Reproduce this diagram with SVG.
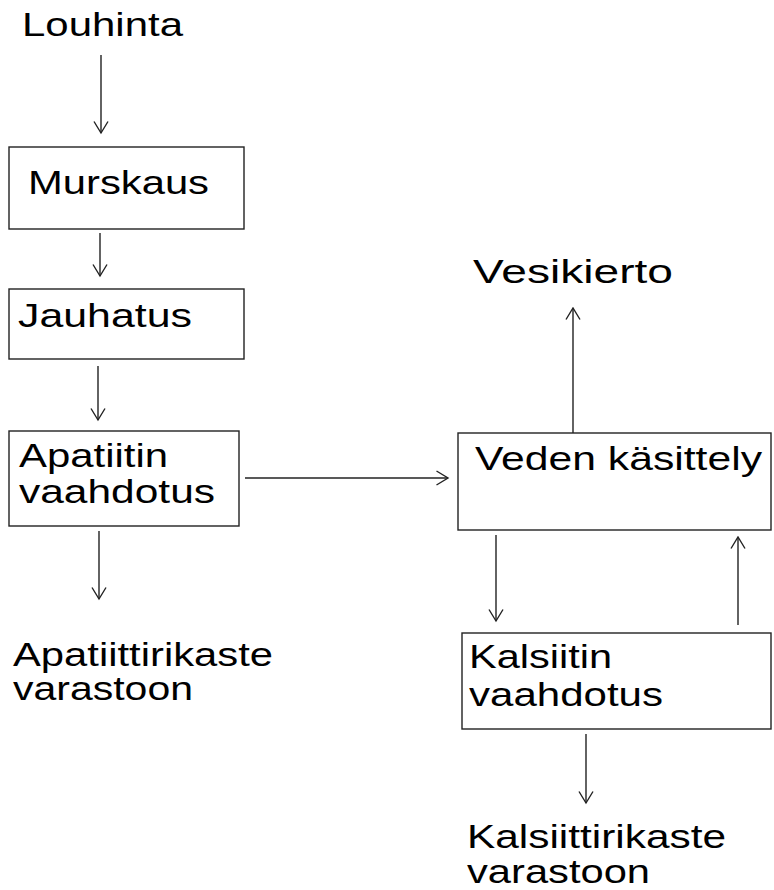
<svg xmlns="http://www.w3.org/2000/svg" width="774" height="890" viewBox="0 0 774 890">
<defs>
<style>
.t{font-family:"Liberation Sans",Arial,sans-serif;font-size:33px;fill:#000}
.b{fill:#fff;stroke:#222;stroke-width:1.4}
.c{stroke:#222;stroke-width:1.4;fill:none;marker-end:url(#ah)}
</style>
<marker id="ah" viewBox="0 0 14 16" refX="12.5" refY="8" markerWidth="14" markerHeight="16" markerUnits="userSpaceOnUse" orient="auto">
<path d="M1,1 L12.5,8 L1,15" fill="none" stroke="#222" stroke-width="1.4"/>
</marker>
</defs>
<rect width="774" height="890" fill="#fff"/>
<g id="connectors">
<line class="c" x1="101" y1="55" x2="101" y2="133"/>
<line class="c" x1="100" y1="233" x2="100" y2="276"/>
<line class="c" x1="98" y1="366" x2="98" y2="420"/>
<line class="c" x1="99" y1="531" x2="99" y2="599"/>
<line class="c" x1="245" y1="478" x2="448" y2="478"/>
<line class="c" x1="573" y1="433" x2="573" y2="308"/>
<line class="c" x1="496" y1="535" x2="496" y2="621"/>
<line class="c" x1="738" y1="625" x2="738" y2="537"/>
<line class="c" x1="586" y1="734" x2="586" y2="803"/>
</g>
<g id="louhinta"><text class="t" x="22" y="36" textLength="161" lengthAdjust="spacingAndGlyphs">Louhinta</text></g>
<g id="murskaus"><rect class="b" x="9" y="147" width="235" height="82"/><text class="t" x="28" y="194" textLength="181" lengthAdjust="spacingAndGlyphs">Murskaus</text></g>
<g id="jauhatus"><rect class="b" x="9" y="289" width="235" height="70"/><text class="t" x="18" y="327" textLength="174" lengthAdjust="spacingAndGlyphs">Jauhatus</text></g>
<g id="apatiitin"><rect class="b" x="9" y="431" width="230" height="95"/><text class="t" x="19" y="467" textLength="149" lengthAdjust="spacingAndGlyphs">Apatiitin</text><text class="t" x="19" y="503" textLength="196" lengthAdjust="spacingAndGlyphs">vaahdotus</text></g>
<g id="apatiittirikaste"><text class="t" x="13" y="666" textLength="260" lengthAdjust="spacingAndGlyphs">Apatiittirikaste</text><text class="t" x="13" y="700" textLength="180" lengthAdjust="spacingAndGlyphs">varastoon</text></g>
<g id="vesikierto"><text class="t" x="473" y="283" textLength="200" lengthAdjust="spacingAndGlyphs">Vesikierto</text></g>
<g id="veden"><rect class="b" x="458" y="433" width="313" height="97"/><text class="t" x="475" y="470" textLength="287" lengthAdjust="spacingAndGlyphs">Veden käsittely</text></g>
<g id="kalsiitin"><rect class="b" x="462" y="633" width="309" height="96"/><text class="t" x="469" y="668" textLength="143" lengthAdjust="spacingAndGlyphs">Kalsiitin</text><text class="t" x="469" y="706" textLength="194" lengthAdjust="spacingAndGlyphs">vaahdotus</text></g>
<g id="kalsiittirikaste"><text class="t" x="467" y="848" textLength="259" lengthAdjust="spacingAndGlyphs">Kalsiittirikaste</text><text class="t" x="467" y="883" textLength="183" lengthAdjust="spacingAndGlyphs">varastoon</text></g>
</svg>
